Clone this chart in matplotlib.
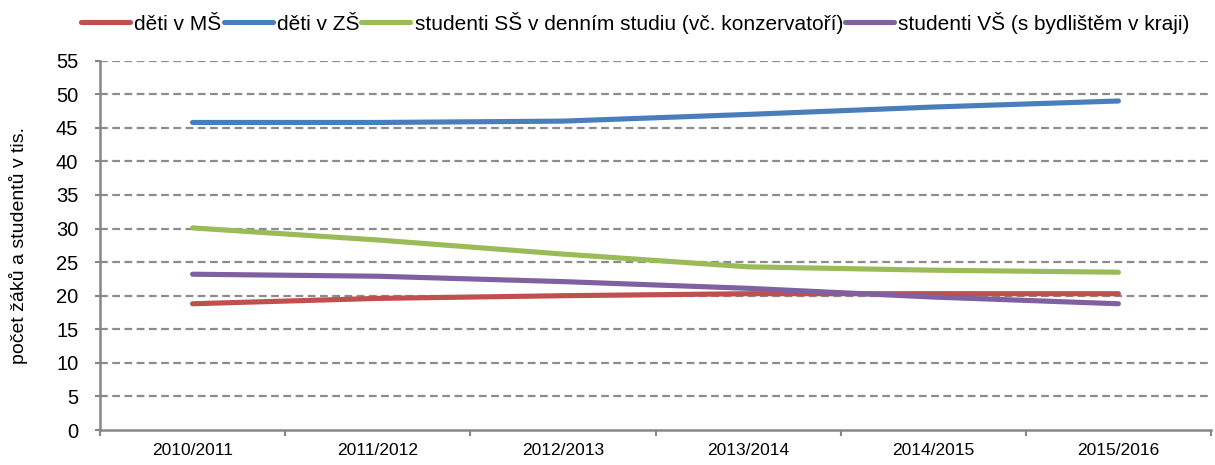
import matplotlib
matplotlib.use("Agg")
import matplotlib.pyplot as plt
from matplotlib import font_manager as fm

names = {f.name for f in fm.fontManager.ttflist}
fam = "Liberation Sans Narrow" if "Liberation Sans Narrow" in names else "Liberation Sans"
plt.rcParams['font.family'] = [fam, 'DejaVu Sans']

categories = ["2010/2011", "2011/2012", "2012/2013", "2013/2014", "2014/2015", "2015/2016"]
deti_ms = [18.8, 19.6, 20.0, 20.3, 20.3, 20.3]
deti_zs = [45.8, 45.8, 46.0, 47.0, 48.1, 49.0]
studenti_ss = [30.1, 28.3, 26.2, 24.3, 23.8, 23.5]
studenti_vs = [23.2, 22.9, 22.1, 21.1, 19.8, 18.8]
labels = ["děti v MŠ", "děti v ZŠ", "studenti SŠ v denním studiu (vč. konzervatoří)",
          "studenti VŠ (s bydlištěm v kraji)"]
colors = ["#C0504D", "#4A7EBB", "#9BBB59", "#7F60A0"]
yticks = list(range(0, 60, 5))

fig = plt.figure(figsize=(12.15, 4.65), dpi=100)
ax = fig.add_axes([100/1215, 1-430/465, (1211-100)/1215, (430-60.7)/465])

x = list(range(len(categories)))
for vals, lab, c in zip([deti_ms, deti_zs, studenti_ss, studenti_vs], labels, colors):
    ax.plot(x, vals, color=c, lw=3.7, solid_capstyle='round', label=lab, zorder=3)

ax.set_xlim(-0.5, len(categories) - 0.5)
ax.set_ylim(0, 55)
ax.set_yticks(yticks)
ax.set_yticklabels([str(v) for v in yticks])
for v in yticks[1:]:
    ax.axhline(v, color="#8c8c8c", lw=1.6, dashes=(3.5, 2), zorder=1)

ax.set_xticks(x)
ax.set_xticklabels(categories)
ax.set_xticks([i - 0.5 for i in range(len(categories) + 1)], minor=True)
ax.tick_params(axis='x', which='major', length=0, pad=9, labelsize=12.5)
ax.tick_params(axis='x', which='minor', length=4, color="#868686", width=1.5)
ax.tick_params(axis='y', length=3.6, color="#868686", width=1.5, labelsize=14.5, pad=12)

for s in ['top', 'right']:
    ax.spines[s].set_visible(False)
for s in ['left', 'bottom']:
    ax.spines[s].set_color("#868686")
    ax.spines[s].set_linewidth(1.8)

ax.set_ylabel("počet žáků a studentů v tis.", fontsize=14, labelpad=20)

leg = fig.legend(loc='upper center', bbox_to_anchor=(0.523, 1.015), ncol=4, frameon=False,
                 fontsize=15, handlelength=2.35, handletextpad=0.2, columnspacing=0.1)
fig.savefig("out.png", dpi=100)
